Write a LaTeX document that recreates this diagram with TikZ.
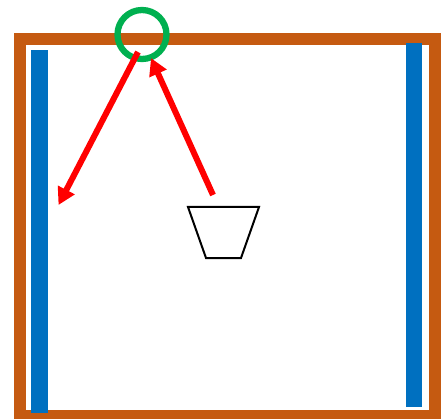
\documentclass[tikz,border=0pt]{standalone}
\usetikzlibrary{arrows.meta}
\definecolor{frameorange}{HTML}{C55A11}
\definecolor{barblue}{HTML}{0070C0}
\definecolor{ringgreen}{HTML}{00B050}
\definecolor{rayred}{HTML}{FF0000}
\tikzset{
  frame/.style={draw=frameorange, line width=12pt},
  bar/.style={fill=barblue, draw=none},
  ring/.style={draw=ringgreen, line width=6.3pt},
  ray/.style={draw=rayred, line width=6pt, -{Triangle[length=17pt,width=18pt]}},
  cup/.style={draw=black, line width=2pt, line join=miter},
}
\begin{document}
\begin{tikzpicture}[x=1pt,y=-1pt]
\useasboundingbox (0,0) rectangle (446,419);
\clip (0,0) rectangle (446,419);
\draw[frame] (20,39) rectangle (435,416);
\fill[bar] (31,50) rectangle (47.5,413);
\fill[bar] (406,43) rectangle (422,407);
\draw[ring] (142,34.5) circle (24.5);
\coordinate (s1) at (138,52);
\coordinate (t1) at (58.5,205);
\coordinate (s2) at (213,195);
\coordinate (t2) at (151,58);
\draw[ray] (s1) -- (t1);
\draw[ray] (s2) -- (t2);
\draw[cup] (188,207) -- (259,207) -- (241,258) -- (206,258) -- cycle;
\end{tikzpicture}
\end{document}
